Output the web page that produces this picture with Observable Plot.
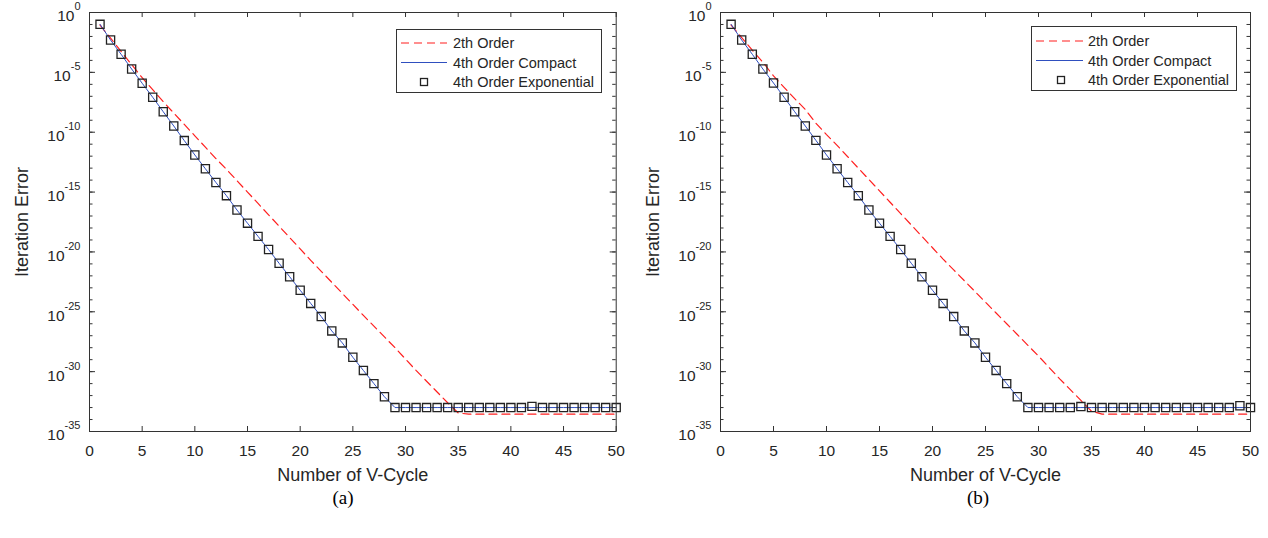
<!DOCTYPE html>
<html><head><meta charset="utf-8">
<script src="https://cdn.jsdelivr.net/npm/d3@7"></script>
<script src="https://cdn.jsdelivr.net/npm/@observablehq/plot@0.6"></script>
<style>
body{margin:0;background:#fff;font-family:"Liberation Sans",Arial,sans-serif;}
#root{position:relative;width:1268px;height:538px;overflow:hidden;background:#fff;}
.panel{position:absolute;top:0;}
.legend{position:absolute;background:#fff;border:1px solid #333;box-sizing:border-box;}
.caption{position:absolute;font-family:"Liberation Serif","Times New Roman",serif;font-size:19px;line-height:20px;transform:translate(-50%,-50%);color:#000;white-space:nowrap;}
</style></head><body><div id="root"></div>
<script>
// ---------- data ----------
const cycles = [1,2,3,4,5,6,7,8,9,10,11,12,13,14,15,16,17,18,19,20,21,22,23,24,25,26,27,28,29,30,31,32,33,34,35,36,37,38,39,40,41,42,43,44,45,46,47,48,49,50];
const xTicks = [0,5,10,15,20,25,30,35,40,45,50];
const yMajorExp = [0,-5,-10,-15,-20,-25,-30,-35];
const yMinorExp = [0,-1,-2,-3,-4,-5,-6,-7,-8,-9,-10,-11,-12,-13,-14,-15,-16,-17,-18,-19,-20,-21,-22,-23,-24,-25,-26,-27,-28,-29,-30,-31,-32,-33,-34,-35];
const seriesNames = ["2th Order","4th Order Compact","4th Order Exponential"];
const xLabel = "Number of V-Cycle";
const yLabel = "Iteration Error";
const captions = ["(a)","(b)"];

// log10 of iteration error, panel (a)
const secondA  = [-1.05,-2.15,-3.25,-4.35,-5.45,-6.45,-7.45,-8.40,-9.35,-10.30,-11.25,-12.20,-13.10,-14.05,-15.00,-15.95,-16.90,-17.85,-18.80,-19.75,-20.70,-21.62,-22.54,-23.46,-24.38,-25.30,-26.20,-27.10,-28.00,-28.95,-29.90,-30.80,-31.70,-32.60,-33.45,-33.55,-33.55,-33.55,-33.55,-33.55,-33.55,-33.55,-33.55,-33.55,-33.55,-33.55,-33.55,-33.55,-33.55,-33.55];
const compactA = [-0.99,-2.30,-3.49,-4.72,-5.91,-7.08,-8.29,-9.48,-10.70,-11.90,-13.05,-14.20,-15.30,-16.50,-17.60,-18.70,-19.80,-20.95,-22.07,-23.20,-24.30,-25.40,-26.60,-27.60,-28.80,-29.90,-31.00,-32.10,-33.00,-33.00,-33.00,-33.00,-33.00,-33.00,-33.00,-33.00,-33.00,-33.00,-33.00,-33.00,-33.00,-33.00,-33.00,-33.00,-33.00,-33.00,-33.00,-33.00,-33.00,-33.00];
const expoA    = [-0.99,-2.30,-3.49,-4.72,-5.91,-7.08,-8.29,-9.48,-10.70,-11.90,-13.05,-14.20,-15.30,-16.50,-17.60,-18.70,-19.80,-20.95,-22.07,-23.20,-24.30,-25.40,-26.60,-27.60,-28.80,-29.90,-31.00,-32.10,-33.00,-33.00,-33.00,-33.00,-33.00,-33.00,-33.00,-33.00,-33.00,-33.00,-33.00,-33.00,-33.00,-32.90,-33.00,-33.00,-33.00,-33.00,-33.00,-33.00,-33.00,-33.00];
// panel (b)
const secondB  = [-1.05,-2.10,-3.15,-4.15,-5.30,-6.25,-7.20,-8.10,-9.25,-10.20,-11.10,-12.05,-13.00,-13.95,-14.90,-15.85,-16.80,-17.75,-18.70,-19.65,-20.60,-21.50,-22.40,-23.30,-24.20,-25.10,-26.00,-26.90,-27.80,-28.70,-29.65,-30.60,-31.50,-32.40,-33.30,-33.55,-33.55,-33.55,-33.55,-33.55,-33.55,-33.55,-33.55,-33.55,-33.55,-33.55,-33.55,-33.55,-33.55,-33.55];
const compactB = [-0.99,-2.30,-3.49,-4.72,-5.89,-7.08,-8.29,-9.48,-10.68,-11.90,-13.05,-14.20,-15.30,-16.50,-17.60,-18.70,-19.80,-20.95,-22.07,-23.20,-24.30,-25.40,-26.60,-27.60,-28.80,-29.90,-31.00,-32.10,-33.00,-33.00,-33.00,-33.00,-33.00,-33.00,-33.00,-33.00,-33.00,-33.00,-33.00,-33.00,-33.00,-33.00,-33.00,-33.00,-33.00,-33.00,-33.00,-33.00,-33.00,-33.00];
const expoB    = [-0.99,-2.30,-3.49,-4.72,-5.89,-7.08,-8.29,-9.48,-10.68,-11.90,-13.05,-14.20,-15.30,-16.50,-17.60,-18.70,-19.80,-20.95,-22.07,-23.20,-24.30,-25.40,-26.60,-27.60,-28.80,-29.90,-31.00,-32.10,-33.00,-33.00,-33.00,-33.00,-33.00,-32.92,-33.00,-33.00,-33.00,-33.00,-33.00,-33.00,-33.00,-33.00,-33.00,-33.00,-33.00,-33.00,-33.00,-33.00,-32.85,-33.00];

// ---------- styles ----------
const RED = "#ff1f1f", BLUE = "#2f4fbf", INK = "#262626", BOX = "#333333";
const FONT = "Liberation Sans, Arial, Helvetica, sans-serif";
const TICK_FS = 15.5, LABEL_FS = 18;

const rows = (exps) => cycles.map((c, i) => ({cycle: c, err: Math.pow(10, exps[i])}));

function makePanel(cfg) {
  const H = 486, mt = 12, mb = 55;
  const fh = H - mt - mb;
  const fw = cfg.width - cfg.marginLeft - cfg.marginRight;
  const chart = Plot.plot({
    width: cfg.width, height: H,
    marginLeft: cfg.marginLeft, marginRight: cfg.marginRight, marginTop: mt, marginBottom: mb,
    style: {fontFamily: FONT, fontSize: TICK_FS + "px", color: INK, background: "transparent", overflow: "visible"},
    x: {domain: [0, 50]},
    y: {type: "log", domain: [1e-35, 1]},
    marks: [
      Plot.line(rows(cfg.second), {x: "cycle", y: "err", stroke: RED, strokeWidth: 1.2, strokeDasharray: "8,5"}),
      Plot.line(rows(cfg.compact), {x: "cycle", y: "err", stroke: BLUE, strokeWidth: 1}),
      Plot.dot(rows(cfg.expo), {x: "cycle", y: "err", symbol: "square", r: 4.6, stroke: "#222", strokeWidth: 1.3, fill: "none"}),
      // inward ticks (bottom, top)
      Plot.ruleX(xTicks, {x: d => d, insetTop: fh - 5, stroke: BOX, strokeWidth: 1}),
      Plot.ruleX(xTicks, {x: d => d, insetBottom: fh - 5, stroke: BOX, strokeWidth: 1}),
      // y minor ticks (left, right)
      Plot.ruleY(yMinorExp, {y: d => Math.pow(10, d), insetRight: fw - 3.5, stroke: BOX, strokeWidth: 1}),
      Plot.ruleY(yMinorExp, {y: d => Math.pow(10, d), insetLeft: fw - 3.5, stroke: BOX, strokeWidth: 1}),
      // y major ticks (left, right)
      Plot.ruleY(yMajorExp, {y: d => Math.pow(10, d), insetRight: fw - 6, stroke: BOX, strokeWidth: 1}),
      Plot.ruleY(yMajorExp, {y: d => Math.pow(10, d), insetLeft: fw - 6, stroke: BOX, strokeWidth: 1}),
      Plot.frame({stroke: BOX, strokeWidth: 1}),
      Plot.axisX({ticks: xTicks, tickSize: 0, tickPadding: 13, label: null, tickFormat: d => String(d), fill: INK, fontSize: TICK_FS}),
      Plot.axisY({ticks: yMajorExp.map(e => Math.pow(10, e)), tickSize: 0, tickPadding: 9, label: null,
                  tickFormat: d => "10^" + Math.round(Math.log10(d)), fill: INK, fontSize: TICK_FS}),
      Plot.text([xLabel], {text: d => d, frameAnchor: "bottom", dy: 44, lineAnchor: "middle", textAnchor: "middle", fontSize: LABEL_FS, fill: INK}),
      Plot.text([yLabel], {text: d => d, frameAnchor: "left", dx: -67, rotate: -90, lineAnchor: "middle", textAnchor: "middle", fontSize: LABEL_FS, fill: INK})
    ]
  });
  // superscript exponents on y tick labels
  const ns = "http://www.w3.org/2000/svg";
  chart.querySelectorAll('g[aria-label="y-axis tick label"] text').forEach(t => {
    const parts = t.textContent.split("^");
    if (parts.length !== 2) return;
    t.textContent = "";
    const base = document.createElementNS(ns, "tspan");
    base.setAttribute("dy", "4");
    base.textContent = parts[0];
    const sup = document.createElementNS(ns, "tspan");
    sup.setAttribute("dy", "-11");
    sup.setAttribute("font-size", "11");
    sup.textContent = parts[1];
    t.append(base, sup);
  });
  chart.classList.add("panel");
  chart.style.left = cfg.left + "px";
  return chart;
}

function makeLegend(cfg) {
  const div = d3.create("div").attr("class", "legend")
    .style("left", cfg.left + "px").style("top", cfg.top + "px")
    .style("width", cfg.w + "px").style("height", cfg.h + "px");
  const svg = div.append("svg").attr("width", cfg.w - 2).attr("height", cfg.h - 2)
    .style("position", "absolute").style("left", "0").style("top", "0");
  const ys = cfg.rowsY;
  svg.append("line").attr("x1", cfg.l1).attr("x2", cfg.l2).attr("y1", ys[0]).attr("y2", ys[0])
    .attr("stroke", RED).attr("stroke-width", 1.2).attr("stroke-dasharray", "8,5");
  svg.append("line").attr("x1", cfg.l1).attr("x2", cfg.l2).attr("y1", ys[1]).attr("y2", ys[1])
    .attr("stroke", BLUE).attr("stroke-width", 1.2);
  svg.append("rect").attr("x", cfg.sq - 3.5).attr("y", ys[2] - 3.5).attr("width", 7).attr("height", 7)
    .attr("fill", "none").attr("stroke", "#222").attr("stroke-width", 1.3);
  seriesNames.forEach((n, i) => {
    svg.append("text").attr("x", cfg.tx).attr("y", ys[i]).attr("dy", "0.35em")
      .attr("font-family", FONT).attr("font-size", 14.5).attr("fill", INK).text(n);
  });
  return div.node();
}

const root = document.getElementById("root");
root.append(makePanel({left: 0, width: 634, marginLeft: 89, marginRight: 18.3, second: secondA, compact: compactA, expo: expoA}));
root.append(makePanel({left: 634, width: 634, marginLeft: 86, marginRight: 18, second: secondB, compact: compactB, expo: expoB}));
root.append(makeLegend({left: 396, top: 29, w: 206, h: 64, rowsY: [13, 32.5, 52], tx: 56, l1: 4, l2: 50, sq: 27}));
root.append(makeLegend({left: 1031, top: 26, w: 206, h: 65, rowsY: [14, 33.5, 53], tx: 56, l1: 4, l2: 51, sq: 29}));
captions.forEach((c, i) => {
  const d = document.createElement("div");
  d.className = "caption";
  d.style.left = (i === 0 ? 343 : 978) + "px";
  d.style.top = "498px";
  d.textContent = c;
  root.append(d);
});
</script></body></html>
